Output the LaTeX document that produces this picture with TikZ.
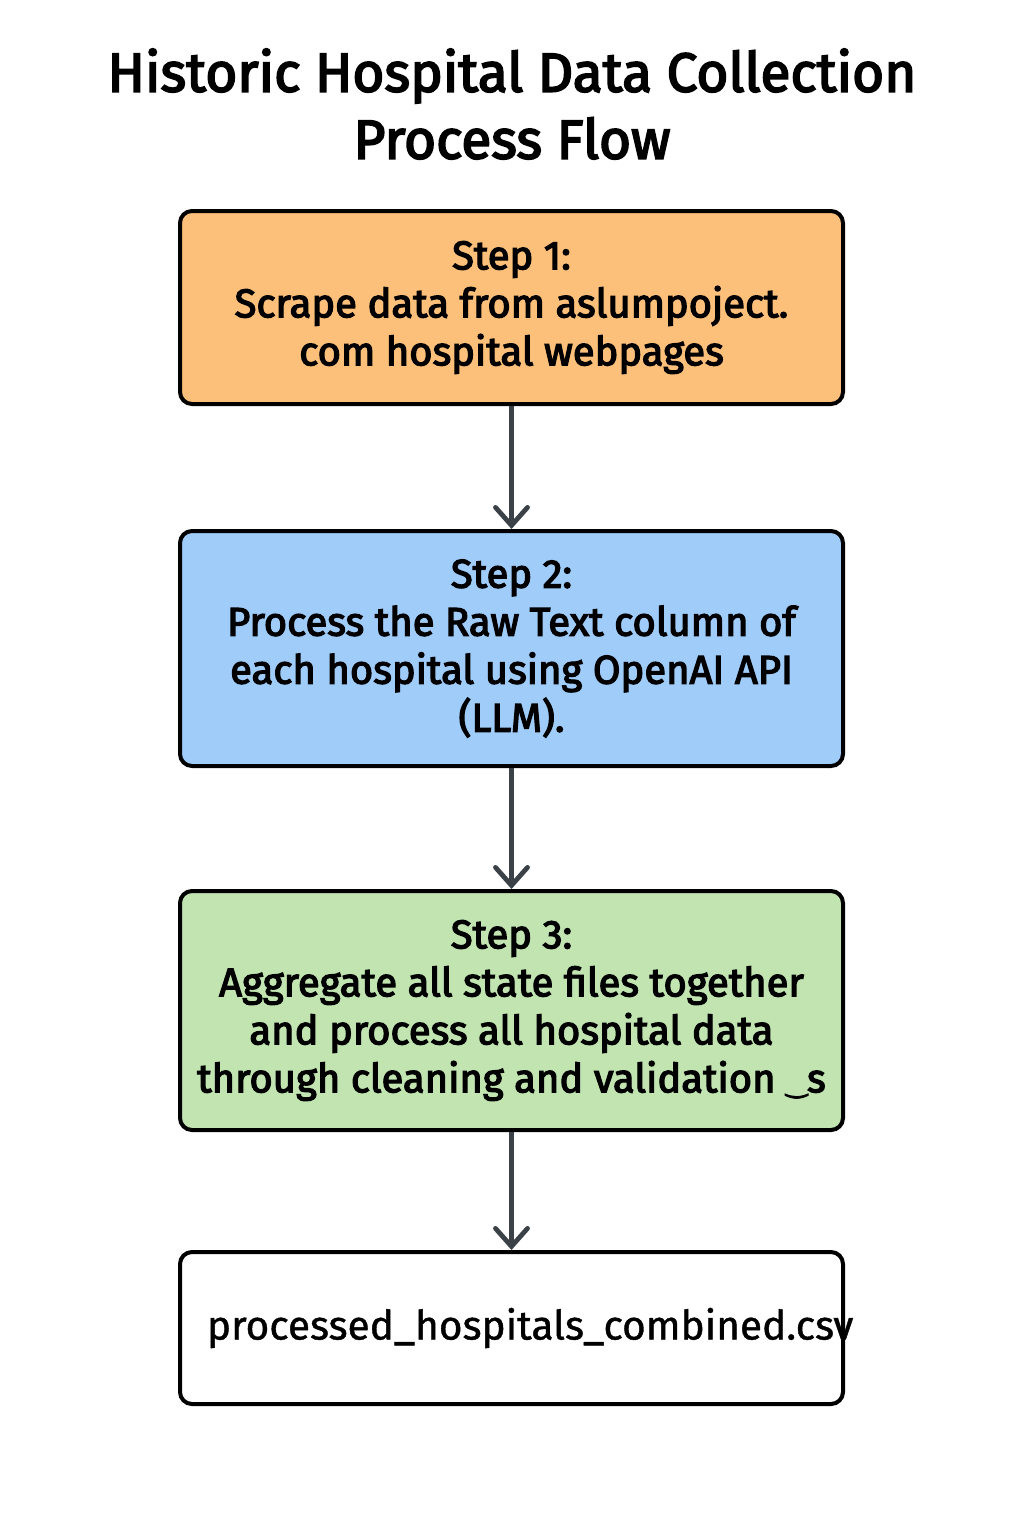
\documentclass[tikz,border=0pt]{standalone}
\usepackage{fontspec}
\setmainfont{Fira Sans}
\newfontfamily\medfont{Fira Sans}[FakeBold=3.2]
\newfontfamily\titlefont{Fira Sans}[FakeBold=1]
\newfontfamily\glyphfont{DejaVu Sans}[FakeBold=3]
\usepackage{tikz}
\usetikzlibrary{arrows.meta}
\definecolor{boxorange}{RGB}{253,192,122}
\definecolor{boxblue}{RGB}{160,204,250}
\definecolor{boxgreen}{RGB}{193,228,177}
\definecolor{arrowgray}{RGB}{58,66,72}
\tikzset{
  stepbox/.style  = {draw=black, line width=2pt, rounded corners=6pt,
                     minimum width=331.5pt, align=center, inner sep=6pt,
                     font=\fontsize{20}{24}\selectfont\medfont},
  flowar/.style   = {-{Straight Barb[length=9pt,width=16pt,line width=2.4pt,
                     line cap=round]}, arrowgray, line width=2.1pt},
  titletext/.style= {align=center, font=\fontsize{27.5}{33.5}\selectfont\medfont}
}

\begin{document}
\begin{tikzpicture}[x=0.5pt,y=-0.5pt]
  \useasboundingbox (0,0) rectangle (1024,1536);
  \node[titletext] (title) at (512,104)
        {Historic Hospital Data Collection\\Process Flow};
  \node[stepbox,fill=boxorange,minimum height=96.5pt] (scrape) at (511.5,307.5)
        {Step 1:\\Scrape data from aslumpoject.\\com hospital webpages};
  \node[stepbox,fill=boxblue,minimum height=117.5pt] (llm) at (511.5,648.5)
        {Step 2:\\Process the Raw Text column of\\each hospital using OpenAI API\\(LLM).};
  \node[stepbox,fill=boxgreen,minimum height=119.5pt] (clean) at (511.5,1010.5)
        {Step 3:\\Aggregate all state files together\\and process all hospital data\\through cleaning and validation {\glyphfont\fontsize{13}{13}\selectfont ‿}s};
  \node[stepbox,fill=white,minimum height=76pt,align=left,text width=304.5pt,
        inner xsep=13.5pt,font=\fontsize{20.3}{24}\selectfont\titlefont] (csv) at (511.5,1328)
        {processed\_hospitals\_combined.csv};
  \draw[flowar] (scrape.south) -- (llm.north);
  \draw[flowar] (llm.south) -- (clean.north);
  \draw[flowar] (clean.south) -- (csv.north);
\end{tikzpicture}
\end{document}
